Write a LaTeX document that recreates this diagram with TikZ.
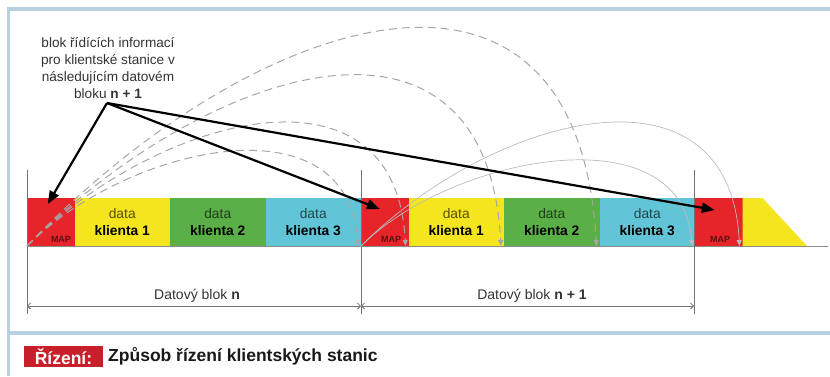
\documentclass[tikz,border=0pt]{standalone}
\usepackage{fontspec}
\setmainfont{Liberation Sans}
\usetikzlibrary{arrows.meta}

\definecolor{mapred}{HTML}{E6252A}
\definecolor{klyel}{HTML}{F5E51F}
\definecolor{klgreen}{HTML}{5AAF47}
\definecolor{klcyan}{HTML}{62C5D7}
\definecolor{framebl}{HTML}{B8D1E2}
\definecolor{capred}{HTML}{C8202A}
\definecolor{arcgray}{HTML}{A6A6A6}

\tikzset{
  seg/.style={inner sep=0pt, outer sep=0pt, minimum height=48pt, align=center,
    font=\fontsize{13.8}{17}\selectfont},
  mapseg/.style={seg, fill=mapred, minimum width=47.5pt},
  dataseg/.style={seg, minimum width=95.5pt},
  maplbl/.style={inner sep=0pt, font=\fontsize{9}{9}\selectfont\bfseries, text=mapred!40!black},
  note/.style={align=center, inner sep=0pt, text=black!80, font=\fontsize{13.6}{17}\selectfont},
  ptr/.style={line width=2.2pt, -{Triangle[length=13pt,width=10pt]}},
  darc/.style={arcgray, line width=1pt, dash pattern=on 8pt off 5pt, -{Triangle[length=6pt,width=5pt]}},
  sarc/.style={arcgray!75, line width=0.7pt, -{Triangle[length=6pt,width=5pt]}},
  vline/.style={black!55, line width=0.9pt},
  dimarr/.style={black!55, line width=0.8pt, {Straight Barb[length=3pt,width=6pt]}-{Straight Barb[length=3pt,width=6pt]}},
  dimlbl/.style={inner sep=0pt, text=black!80, font=\fontsize{14}{16}\selectfont},
  capbox/.style={fill=capred, text=white, inner sep=0pt, minimum width=79pt, minimum height=21pt,
    font=\fontsize{17.5}{18}\selectfont\bfseries},
  captxt/.style={inner sep=0pt, anchor=west, text=black!90, font=\fontsize{17.5}{18}\selectfont\bfseries}
}

\begin{document}
\begin{tikzpicture}[x=1pt,y=-1pt]
  \useasboundingbox (0,0) rectangle (830,376);
  % frame
  \fill[framebl] (7,7) rectangle (830,11);
  \fill[framebl] (7,7) rectangle (10,376);
  \fill[framebl] (7,331) rectangle (830,335);

  % datovy blok n
  \node[mapseg] (map1) at (50.75,222) {};
  \node[dataseg, fill=klyel] (k1) at (122.25,222) {{\color{klyel!35!black}data}\\\textbf{klienta 1}};
  \node[dataseg, fill=klgreen] (k2) at (217.75,222) {{\color{klgreen!35!black}data}\\\textbf{klienta 2}};
  \node[dataseg, fill=klcyan] (k3) at (313.25,222) {{\color{klcyan!35!black}data}\\\textbf{klienta 3}};
  % datovy blok n+1
  \node[mapseg] (map2) at (384.75,222) {};
  \node[dataseg, fill=klyel] (k4) at (456.25,222) {{\color{klyel!35!black}data}\\\textbf{klienta 1}};
  \node[dataseg, fill=klgreen] (k5) at (551.75,222) {{\color{klgreen!35!black}data}\\\textbf{klienta 2}};
  \node[dataseg, fill=klcyan] (k6) at (647.25,222) {{\color{klcyan!35!black}data}\\\textbf{klienta 3}};
  % datovy blok n+2
  \node[mapseg] (map3) at (718.75,222) {};
  \fill[klyel] (map3.north east) -- ++(20,0) -- (807,246) -- (map3.south east) -- cycle;

  \node[maplbl] (m1) at (61,239) {MAP};
  \node[maplbl] (m2) at (391,239) {MAP};
  \node[maplbl] (m3) at (720,239) {MAP};

  \coordinate (bend) at (828,246);
  \draw[black!45, line width=1pt] (map1.south west) -- (bend);

  % hranice bloku
  \coordinate (v0t) at (27,170);  \coordinate (v0b) at (27,314);
  \coordinate (v1t) at (361,170); \coordinate (v1b) at (361,314);
  \coordinate (v2t) at (694,170); \coordinate (v2b) at (694,314);
  \draw[vline] (v0t) -- (v0b);
  \draw[vline] (v1t) -- (v1b);
  \draw[vline] (v2t) -- (v2b);

  \coordinate (d0) at (27,306);
  \coordinate (d1) at (361,306);
  \coordinate (d2) at (694,306);
  \draw[dimarr] (d0) -- (d1);
  \draw[dimarr] (d1) -- (d2);
  \node[dimlbl] (lbln) at (197,296) {Datový blok \textbf{n}};
  \node[dimlbl] (lbln1) at (532,296) {Datový blok \textbf{n + 1}};

  % oblouky z MAP
  \draw[darc] (map1.south west) .. controls +(220,-230) and +(-20,-345) .. ([xshift=-3pt]k5.south east);
  \draw[darc] (map1.south west) .. controls +(180,-180) and +(-15,-270) .. ([xshift=-3pt]k4.south east);
  \draw[darc] (map1.south west) .. controls +(130,-130) and +(-10,-195) .. ([xshift=-3pt]map2.south east);
  \draw[darc] (map1.south west) .. controls +(100,-100) and +(-10,-150) .. ([xshift=-3pt]k3.south east);
  \draw[sarc] (map2.south west) .. controls +(130,-130) and +(-10,-195) .. ([xshift=-3pt]map3.south east);
  \draw[sarc] (map2.south west) .. controls +(90,-90) and +(-10,-135) .. ([xshift=-3pt]k6.south east);

  % popisek
  \node[note] (info) at (108,68) {blok řídících informací\\pro klientské stanice v\\následujícím datovém\\bloku \textbf{n + 1}};
  \coordinate (src) at (107,103);
  \draw[ptr] (src) -- ([xshift=-3pt,yshift=-6pt]map1.north);
  \draw[ptr] (src) -- ([xshift=-5pt,yshift=-11pt]map2.north);
  \draw[ptr] (src) -- ([xshift=-4pt,yshift=-12pt]map3.north);

  % titulek
  \node[capbox] (cap) at (63.5,356.5) {Řízení:};
  \node[captxt] (capt) at (108,356) {Způsob řízení klientských stanic};
\end{tikzpicture}
\end{document}
